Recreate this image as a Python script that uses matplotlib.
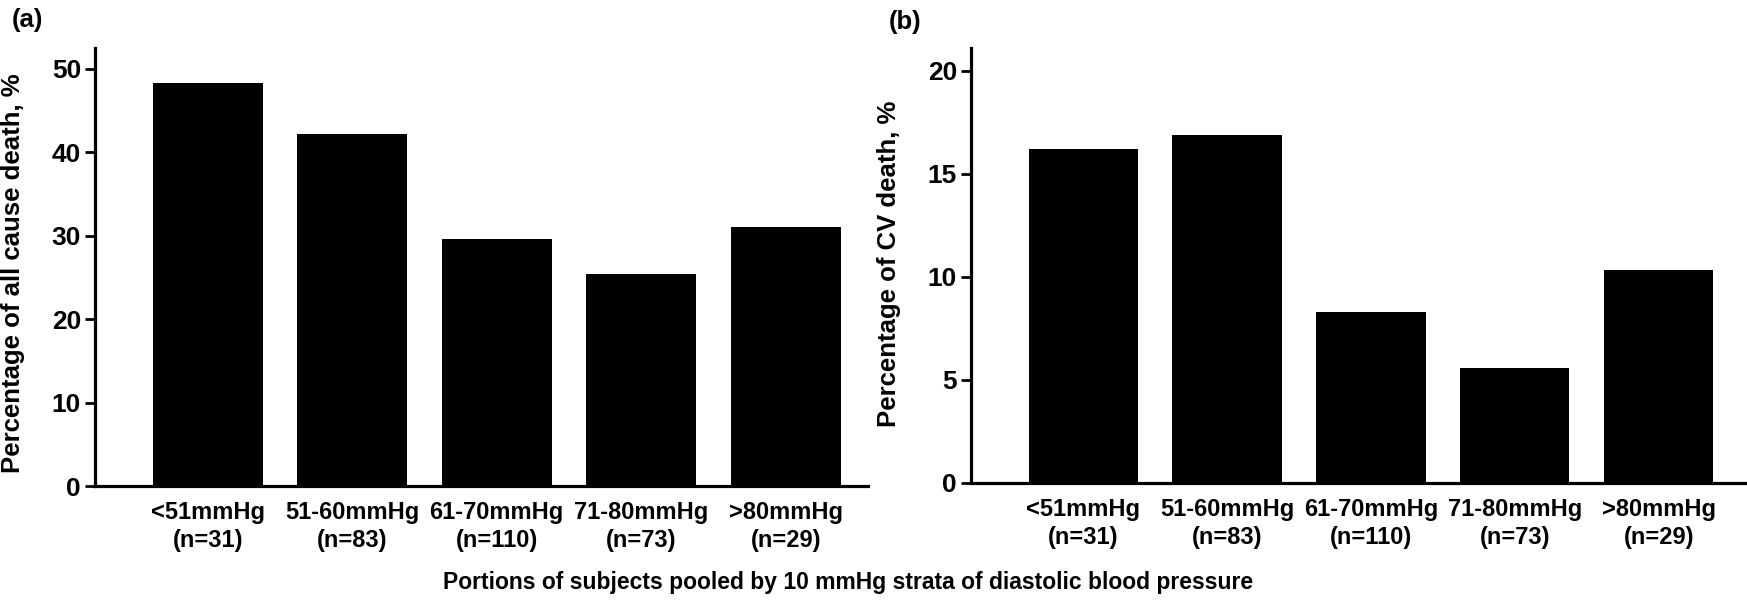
import matplotlib
matplotlib.use("Agg")
import matplotlib.pyplot as plt

plt.rcParams['font.family'] = ['Liberation Sans', 'DejaVu Sans']
plt.rcParams['font.weight'] = 'bold'

# Данные
categories = ['<51mmHg\n(n=31)', '51-60mmHg\n(n=83)', '61-70mmHg\n(n=110)',
              '71-80mmHg\n(n=73)', '>80mmHg\n(n=29)']
all_cause = [48.3, 42.2, 29.6, 25.4, 31.0]
cv_death = [16.2, 16.9, 8.3, 5.6, 10.35]
yticks_a = [0, 10, 20, 30, 40, 50]
yticks_b = [0, 5, 10, 15, 20]

W, H = 1747, 602
fig = plt.figure(figsize=(W / 100, H / 100), dpi=100)

def px_axes(x0, x1, ytop, ybot):
    return fig.add_axes([x0 / W, 1 - ybot / H, (x1 - x0) / W, (ybot - ytop) / H])

def style(ax, vals, yticks, ylim, xlim, ylabel, lab_y):
    x = list(range(len(vals)))
    ax.bar(x, vals, width=0.76, color='black')
    ax.set_xlim(*xlim)
    ax.set_ylim(0, ylim)
    ax.set_yticks(yticks)
    ax.set_xticks(x)
    ax.set_xticklabels(categories, fontsize=17, fontweight='bold', linespacing=1.25)
    for s in ['top', 'right']:
        ax.spines[s].set_visible(False)
    for s in ['left', 'bottom']:
        ax.spines[s].set_linewidth(2.3)
    ax.tick_params(axis='y', length=7, width=2.0, pad=3, labelsize=19)
    ax.tick_params(axis='x', length=0, pad=11)
    for t in ax.get_yticklabels():
        t.set_fontweight('bold')
    ax.set_ylabel(ylabel, fontsize=18.5, fontweight='bold')
    ax.yaxis.set_label_coords(-0.091, lab_y)

ax1 = px_axes(95, 868, 48, 486)
style(ax1, all_cause, yticks_a, 52.5, (-0.78, 4.57),
      'Percentage of all cause death, %', 0.485)

ax2 = px_axes(971, 1745, 48, 483)
style(ax2, cv_death, yticks_b, 21.1, (-0.78, 4.6),
      'Percentage of CV death, %', 0.505)

fig.text(27 / W, 1 - 20 / H, '(a)', ha='center', va='center', fontsize=18.5, fontweight='bold')
fig.text(905 / W, 1 - 22 / H, '(b)', ha='center', va='center', fontsize=18.5, fontweight='bold')
fig.text(848 / W, 1 - 582 / H,
         'Portions of subjects pooled by 10 mmHg strata of diastolic blood pressure',
         ha='center', va='center', fontsize=16.5, fontweight='bold')

fig.savefig('out.png', dpi=100)
